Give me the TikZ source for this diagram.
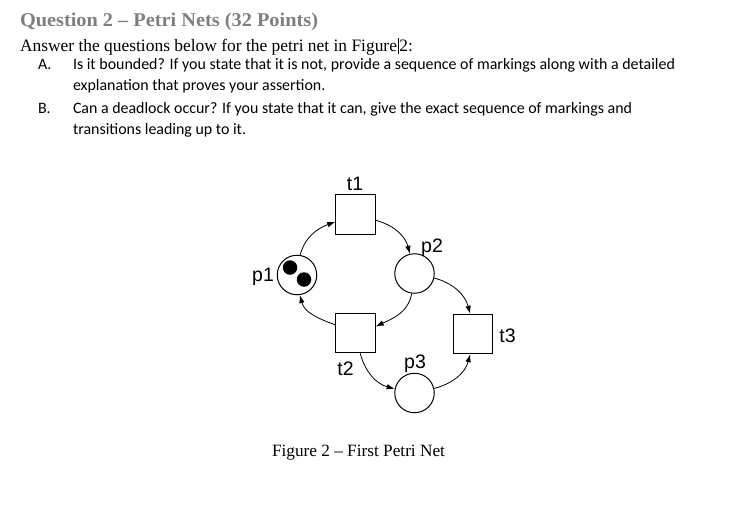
\documentclass[tikz,border=0pt]{standalone}
\usepackage{fontspec}
\usepackage{graphicx}
\setmainfont{Liberation Serif}
\newfontfamily\carl{Carlito}
\newfontfamily\arialf{Liberation Sans}
\usetikzlibrary{arrows.meta}
\definecolor{titlegray}{RGB}{127,127,127}
\newlength\awidth
\tikzset{
  txt/.style={anchor=base west, inner sep=0pt, outer sep=0pt},
  place/.style={draw, circle, minimum size=39.5pt, inner sep=0pt, line width=1pt},
  trans/.style={draw, rectangle, minimum size=39.5pt, inner sep=0pt, line width=1pt},
  lab/.style={anchor=base, inner sep=0pt, font=\arialf\fontsize{19.5}{22}\selectfont},
  token/.style={fill=black, circle, minimum size=14.5pt, inner sep=0pt},
  arc/.style={line width=0.8pt, -{Latex[length=8pt,width=5.5pt]}}
}
\begin{document}
\settowidth\awidth{\carl\fontsize{13}{15}\selectfont Is it bounded? If you state that it is not, provide a sequence of markings along with a detailed}
\pgfmathsetmacro\cs{602/\awidth}
\begin{tikzpicture}[x=1pt,y=-1pt]
\useasboundingbox (0,0) rectangle (730,509);
% header text
\node[txt, text=titlegray] (title) at (20,26.5) {\resizebox{298pt}{\height}{\bfseries\fontsize{19.5}{21}\selectfont Question 2 -- Petri Nets (32 Points)}};
\node[txt] (answer) at (20,51) {\resizebox{393pt}{!}{\fontsize{15}{17}\selectfont Answer the questions below for the petri net in Figure\kern0.5pt\rule[-2.5pt]{0.6pt}{14pt}\kern1pt2:}};
\node[txt] (la) at (38,69) {\scalebox{\cs}{\carl\fontsize{13}{15}\selectfont A.}};
\node[txt] (ta) at (73,69) {\scalebox{\cs}{\carl\fontsize{13}{15}\selectfont Is it bounded? If you state that it is not, provide a sequence of markings along with a detailed}};
\node[txt] (ta2) at (73,90) {\scalebox{\cs}{\carl\fontsize{13}{15}\selectfont explanation that proves your assertion.}};
\node[txt] (lb) at (38,113) {\scalebox{\cs}{\carl\fontsize{13}{15}\selectfont B.}};
\node[txt] (tb) at (73,113) {\scalebox{\cs}{\carl\fontsize{13}{15}\selectfont Can a deadlock occur? If you state that it can, give the exact sequence of markings and}};
\node[txt] (tb2) at (73,134) {\scalebox{\cs}{\carl\fontsize{13}{15}\selectfont transitions leading up to it.}};
% petri net
\node[trans] (t1) at (355.5,214.5) {};
\node[trans] (t2) at (355.5,333) {};
\node[trans] (t3) at (473,334) {};
\node[place] (p1) at (297,275) {};
\node[place] (p2) at (414.5,273.5) {};
\node[place] (p3) at (414.5,393) {};
\node[token] (k1) at (290,267.5) {};
\node[token] (k2) at (304,279.5) {};
\node[lab] (lt1) at (355,190) {t1};
\node[lab] (lp1) at (263,281) {p1};
\node[lab] (lp2) at (432,252) {p2};
\node[lab] (lt2) at (345.5,375) {t2};
\node[lab] (lp3) at (415,368) {p3};
\node[lab] (lt3) at (507.5,342) {t3};
\draw[arc] (p1.81) to[out=75,in=200] (t1.200);
\draw[arc] (t1.344) to[out=-15,in=105] (p2.103);
\draw[arc] (p2.262) to[out=-100,in=25] (t2.18);
\draw[arc] (t2.158) to[out=160,in=-75] (p1.278);
\draw[arc] (p2.347) to[out=-15,in=105] (t3.98);
\draw[arc] (t2.283) to[out=-75,in=165] (p3.168);
\draw[arc] (p3.13) to[out=15,in=-105] (t3.262);
% caption
\node[txt] (cap) at (272,456) {\resizebox{173pt}{!}{\fontsize{14.5}{16}\selectfont Figure 2 -- First Petri Net}};
\end{tikzpicture}
\end{document}
